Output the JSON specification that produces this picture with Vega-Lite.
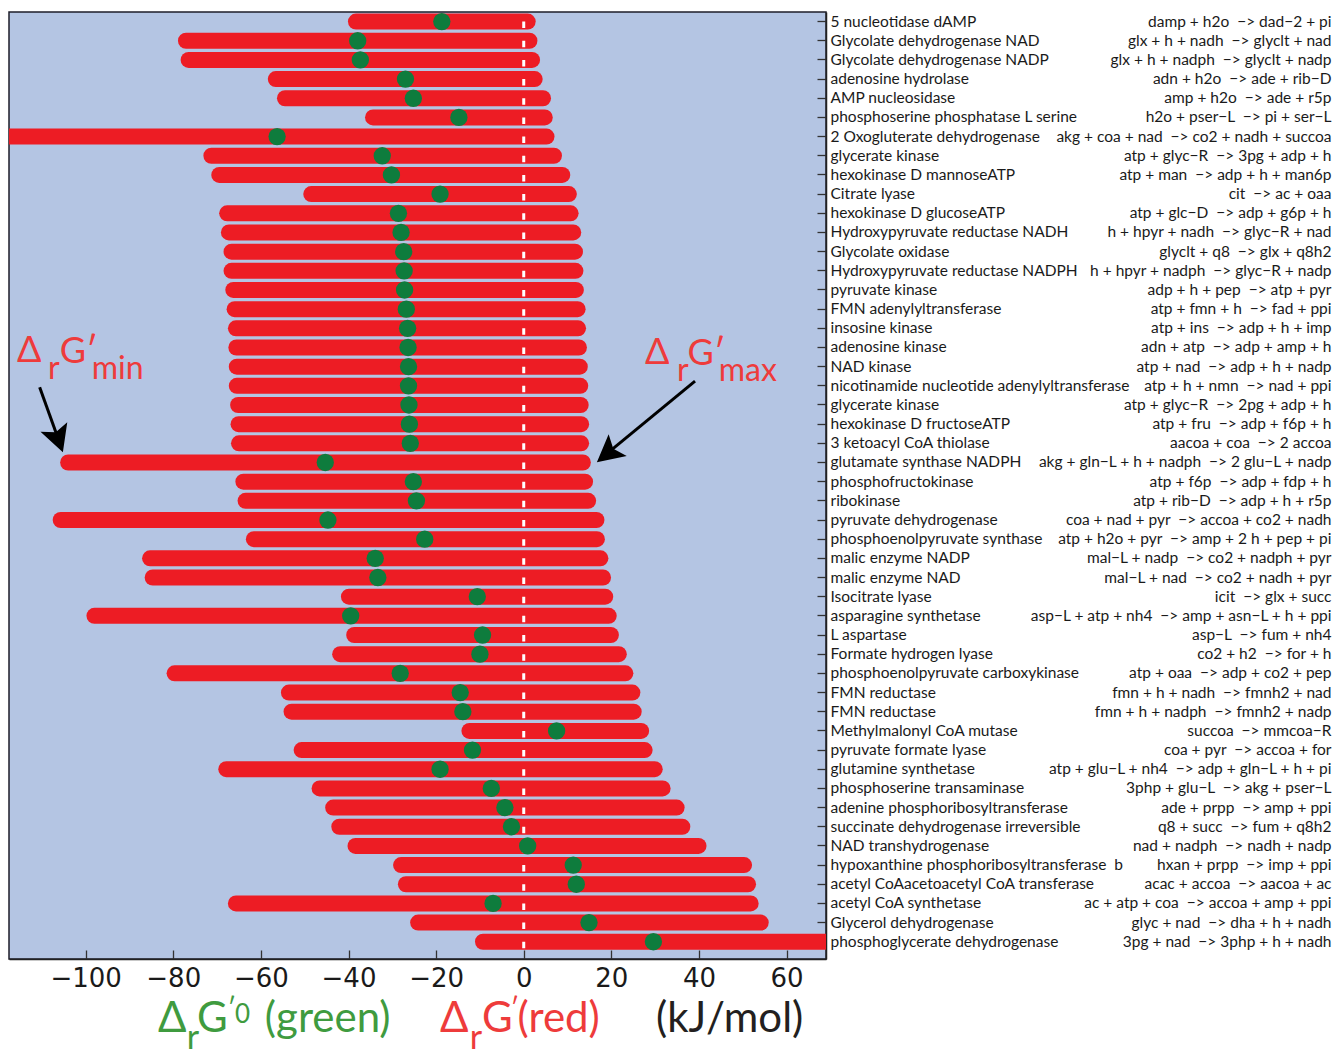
{
  "$schema": "https://vega.github.io/schema/vega-lite/v6.json",
  "width": 817,
  "height": 947,
  "autosize": {"type": "none"},
  "padding": {"left": 9, "top": 12, "right": 512, "bottom": 92},
  "background": "white",
  "config": {
    "view": {"fill": "#B4C5E3", "stroke": "#1E1E2A", "strokeWidth": 1.5},
    "font": "Lato",
    "axis": {"grid": false, "domainColor": "#222222", "tickColor": "#333333", "labelColor": "#1A1A1A"}
  },
  "datasets": {
    "rows": [
      {"key": "00|5 nucleotidase dAMP|damp + h2o\u00a0 −> dad−2 + pi", "dg_min": -38.3, "dg_max": 0.9, "dg0": -18.7},
      {"key": "01|Glycolate dehydrogenase NAD|glx + h + nadh\u00a0 −> glyclt + nad", "dg_min": -77.1, "dg_max": 1.3, "dg0": -37.9},
      {"key": "02|Glycolate dehydrogenase NADP|glx + h + nadph\u00a0 −> glyclt + nadp", "dg_min": -76.5, "dg_max": 1.9, "dg0": -37.3},
      {"key": "03|adenosine hydrolase|adn + h2o\u00a0 −> ade + rib−D", "dg_min": -56.6, "dg_max": 2.5, "dg0": -27.0},
      {"key": "04|AMP nucleosidase|amp + h2o\u00a0 −> ade + r5p", "dg_min": -54.5, "dg_max": 4.4, "dg0": -25.2},
      {"key": "05|phosphoserine phosphatase L serine|h2o + pser−L\u00a0 −> pi + ser−L", "dg_min": -34.4, "dg_max": 4.8, "dg0": -14.8},
      {"key": "06|2 Oxogluterate dehydrogenase|akg + coa + nad\u00a0 −> co2 + nadh + succoa", "dg_min": -135, "dg_max": 5.2, "dg0": -56.3},
      {"key": "07|glycerate kinase|atp + glyc−R\u00a0 −> 3pg + adp + h", "dg_min": -71.3, "dg_max": 6.9, "dg0": -32.3},
      {"key": "08|hexokinase D mannoseATP|atp + man\u00a0 −> adp + h + man6p", "dg_min": -69.5, "dg_max": 8.8, "dg0": -30.2},
      {"key": "09|Citrate lyase|cit\u00a0 −> ac + oaa", "dg_min": -48.5, "dg_max": 10.3, "dg0": -19.1},
      {"key": "10|hexokinase D glucoseATP|atp + glc−D\u00a0 −> adp + g6p + h", "dg_min": -67.7, "dg_max": 10.7, "dg0": -28.6},
      {"key": "11|Hydroxypyruvate reductase NADH|h + hpyr + nadh\u00a0 −> glyc−R + nad", "dg_min": -67.3, "dg_max": 11.3, "dg0": -28.0},
      {"key": "12|Glycolate oxidase|glyclt + q8\u00a0 −> glx + q8h2", "dg_min": -66.7, "dg_max": 11.7, "dg0": -27.4},
      {"key": "13|Hydroxypyruvate reductase NADPH|h + hpyr + nadph\u00a0 −> glyc−R + nadp", "dg_min": -66.7, "dg_max": 11.8, "dg0": -27.3},
      {"key": "14|pyruvate kinase|adp + h + pep\u00a0 −> atp + pyr", "dg_min": -66.3, "dg_max": 11.9, "dg0": -27.2},
      {"key": "15|FMN adenylyltransferase|atp + fmn + h\u00a0 −> fad + ppi", "dg_min": -66.0, "dg_max": 12.3, "dg0": -26.8},
      {"key": "16|insosine kinase|atp + ins\u00a0 −> adp + h + imp", "dg_min": -65.7, "dg_max": 12.4, "dg0": -26.5},
      {"key": "17|adenosine kinase|adn + atp\u00a0 −> adp + amp + h", "dg_min": -65.6, "dg_max": 12.6, "dg0": -26.4},
      {"key": "18|NAD kinase|atp + nad\u00a0 −> adp + h + nadp", "dg_min": -65.5, "dg_max": 12.8, "dg0": -26.3},
      {"key": "19|nicotinamide nucleotide adenylyltransferase|atp + h + nmn\u00a0 −> nad + ppi", "dg_min": -65.5, "dg_max": 12.9, "dg0": -26.3},
      {"key": "20|glycerate kinase|atp + glyc−R\u00a0 −> 2pg + adp + h", "dg_min": -65.2, "dg_max": 13.0, "dg0": -26.2},
      {"key": "21|hexokinase D fructoseATP|atp + fru\u00a0 −> adp + f6p + h", "dg_min": -65.1, "dg_max": 13.1, "dg0": -26.1},
      {"key": "22|3 ketoacyl CoA thiolase|aacoa + coa\u00a0 −> 2 accoa", "dg_min": -65.0, "dg_max": 13.1, "dg0": -25.9},
      {"key": "23|glutamate synthase NADPH|akg + gln−L + h + nadph\u00a0 −> 2 glu−L + nadp", "dg_min": -104.0, "dg_max": 13.5, "dg0": -45.3},
      {"key": "24|phosphofructokinase|atp + f6p\u00a0 −> adp + fdp + h", "dg_min": -64.0, "dg_max": 14.0, "dg0": -25.2},
      {"key": "25|ribokinase|atp + rib−D\u00a0 −> adp + h + r5p", "dg_min": -63.5, "dg_max": 14.7, "dg0": -24.5},
      {"key": "26|pyruvate dehydrogenase|coa + nad + pyr\u00a0 −> accoa + co2 + nadh", "dg_min": -105.7, "dg_max": 16.6, "dg0": -44.7},
      {"key": "27|phosphoenolpyruvate synthase|atp + h2o + pyr\u00a0 −> amp + 2 h + pep + pi", "dg_min": -61.6, "dg_max": 16.7, "dg0": -22.6},
      {"key": "28|malic enzyme NADP|mal−L + nadp\u00a0 −> co2 + nadph + pyr", "dg_min": -85.3, "dg_max": 17.5, "dg0": -33.9},
      {"key": "29|malic enzyme NAD|mal−L + nad\u00a0 −> co2 + nadh + pyr", "dg_min": -84.7, "dg_max": 18.1, "dg0": -33.3},
      {"key": "30|Isocitrate lyase|icit\u00a0 −> glx + succ", "dg_min": -39.9, "dg_max": 18.6, "dg0": -10.6},
      {"key": "31|asparagine synthetase|asp−L + atp + nh4\u00a0 −> amp + asn−L + h + ppi", "dg_min": -98.0, "dg_max": 19.4, "dg0": -39.5},
      {"key": "32|L aspartase|asp−L\u00a0 −> fum + nh4", "dg_min": -38.7, "dg_max": 19.9, "dg0": -9.4},
      {"key": "33|Formate hydrogen lyase|co2 + h2\u00a0 −> for + h", "dg_min": -41.9, "dg_max": 21.7, "dg0": -10.0},
      {"key": "34|phosphoenolpyruvate carboxykinase|atp + oaa\u00a0 −> adp + co2 + pep", "dg_min": -79.7, "dg_max": 23.2, "dg0": -28.2},
      {"key": "35|FMN reductase|fmn + h + nadh\u00a0 −> fmnh2 + nad", "dg_min": -53.6, "dg_max": 24.8, "dg0": -14.5},
      {"key": "36|FMN reductase|fmn + h + nadph\u00a0 −> fmnh2 + nadp", "dg_min": -53.0, "dg_max": 25.1, "dg0": -13.9},
      {"key": "37|Methylmalonyl CoA mutase|succoa\u00a0 −> mmcoa−R", "dg_min": -12.4, "dg_max": 26.8, "dg0": 7.5},
      {"key": "38|pyruvate formate lyase|coa + pyr\u00a0 −> accoa + for", "dg_min": -50.7, "dg_max": 27.6, "dg0": -11.7},
      {"key": "39|glutamine synthetase|atp + glu−L + nh4\u00a0 −> adp + gln−L + h + pi", "dg_min": -67.9, "dg_max": 29.9, "dg0": -19.1},
      {"key": "40|phosphoserine transaminase|3php + glu−L\u00a0 −> akg + pser−L", "dg_min": -46.6, "dg_max": 31.7, "dg0": -7.4},
      {"key": "41|adenine phosphoribosyltransferase|ade + prpp\u00a0 −> amp + ppi", "dg_min": -43.5, "dg_max": 34.9, "dg0": -4.3},
      {"key": "42|succinate dehydrogenase irreversible|q8 + succ\u00a0 −> fum + q8h2", "dg_min": -42.1, "dg_max": 36.2, "dg0": -2.8},
      {"key": "43|NAD transhydrogenase|nad + nadph\u00a0 −> nadh + nadp", "dg_min": -38.4, "dg_max": 39.9, "dg0": 0.9},
      {"key": "44|hypoxanthine phosphoribosyltransferase\u00a0 b|hxan + prpp\u00a0 −> imp + ppi", "dg_min": -28.0, "dg_max": 50.3, "dg0": 11.3},
      {"key": "45|acetyl CoAacetoacetyl CoA transferase|acac + accoa\u00a0 −> aacoa + ac", "dg_min": -26.9, "dg_max": 51.2, "dg0": 12.0},
      {"key": "46|acetyl CoA synthetase|ac + atp + coa\u00a0 −> accoa + amp + ppi", "dg_min": -65.7, "dg_max": 51.8, "dg0": -7.0},
      {"key": "47|Glycerol dehydrogenase|glyc + nad\u00a0 −> dha + h + nadh", "dg_min": -24.1, "dg_max": 54.1, "dg0": 14.9},
      {"key": "48|phosphoglycerate dehydrogenase|3pg + nad\u00a0 −> 3php + h + nadh", "dg_min": -9.3, "dg_max": 85, "dg0": 29.6}
    ],
    "zero": [{"x": 0, "r": 0, "r2": 48.5}],
    "arrows": [
      {"x": -110.5, "r": 19.08, "x2": -105.9, "r2": 22.0},
      {"x": 39.1, "r": 18.76, "x2": 18.3, "r2": 22.67}
    ],
    "heads": [
      {"x": -105.2, "r": 22.47, "angle": 160.5},
      {"x": 16.7, "r": 22.99, "angle": 230.4}
    ],
    "ann": [
      {"x": -115.7, "r": 17.77, "text": "Δ", "tone": "red", "role": "main"},
      {"x": -108.6, "r": 18.66, "text": "r", "tone": "red", "role": "sub"},
      {"x": -105.9, "r": 17.83, "text": "G′", "tone": "red", "role": "main"},
      {"x": -98.6, "r": 18.66, "text": "min", "tone": "red", "role": "sub"},
      {"x": 27.7, "r": 17.87, "text": "Δ", "tone": "red", "role": "main"},
      {"x": 35.0, "r": 18.75, "text": "r", "tone": "red", "role": "sub"},
      {"x": 37.4, "r": 17.92, "text": "G′", "tone": "red", "role": "main"},
      {"x": 44.5, "r": 18.75, "text": "max", "tone": "red", "role": "sub"},
      {"x": -83.5, "r": 52.7, "text": "Δ", "tone": "green", "role": "legend"},
      {"x": -76.9, "r": 53.6, "text": "r", "tone": "green", "role": "legendsub"},
      {"x": -74.6, "r": 52.7, "text": "G", "tone": "green", "role": "legend"},
      {"x": -67.6, "r": 51.95, "text": "′", "tone": "green", "role": "sup"},
      {"x": -65.9, "r": 52.25, "text": "0", "tone": "green", "role": "sup"},
      {"x": -59.1, "r": 52.7, "text": "(green)", "tone": "green", "role": "legend"},
      {"x": -19.1, "r": 52.7, "text": "Δ", "tone": "red", "role": "legend"},
      {"x": -12.3, "r": 53.6, "text": "r", "tone": "red", "role": "legendsub"},
      {"x": -9.5, "r": 52.7, "text": "G", "tone": "red", "role": "legend"},
      {"x": -3.0, "r": 51.95, "text": "′", "tone": "red", "role": "sup"},
      {"x": -1.4, "r": 52.7, "text": "(red)", "tone": "red", "role": "legend"},
      {"x": 30.2, "r": 52.7, "text": "(kJ/mol)", "tone": "black", "role": "legend"}
    ]
  },
  "layer": [
    {
      "data": {"name": "rows"},
      "mark": {"type": "rule", "strokeCap": "round", "strokeWidth": 16, "color": "#ED1C24", "clip": true},
      "encoding": {
        "y": {
          "field": "key", "type": "nominal",
          "scale": {"type": "band", "paddingInner": 0, "paddingOuter": 0.2, "align": 0},
          "axis": {
            "orient": "right", "title": null,
            "labelExpr": "split(datum.value, '|')[1]",
            "tickSize": -9, "tickWidth": 1.3, "labelPadding": 13,
            "labelFont": "Lato", "labelFontSize": 15.5, "labelLimit": 0,
            "domain": true, "domainWidth": 1.5
          }
        },
        "x": {
          "field": "dg_min", "type": "quantitative",
          "scale": {"domain": [-117.5, 69], "nice": false, "zero": false},
          "axis": {
            "title": null, "values": [-100, -80, -60, -40, -20, 0, 20, 40, 60],
            "tickSize": -9, "tickWidth": 1.3, "labelPadding": 15,
            "labelFont": "DejaVu Sans", "labelFontSize": 26, "labelFlush": false,
            "domain": true, "domainWidth": 1.5
          }
        },
        "x2": {"field": "dg_max"}
      }
    },
    {
      "data": {"name": "zero"},
      "mark": {"type": "rule", "color": "white", "strokeWidth": 3, "strokeDash": [6.5, 12.67]},
      "encoding": {
        "x": {"field": "x", "type": "quantitative"},
        "y": {"field": "r", "type": "quantitative", "scale": {"domain": [-0.5, 48.9], "reverse": true, "nice": false, "zero": false}, "axis": null},
        "y2": {"field": "r2"}
      }
    },
    {
      "data": {"name": "rows"},
      "mark": {"type": "point", "filled": true, "size": 300, "color": "#0E7C3D", "opacity": 1, "strokeWidth": 0},
      "encoding": {
        "y": {
          "field": "key", "type": "nominal",
          "scale": {"type": "band", "paddingInner": 0, "paddingOuter": 0.2, "align": 0},
          "axis": {
            "orient": "right", "title": null,
            "labelExpr": "split(datum.value, '|')[2]",
            "ticks": false, "domain": false, "labelAlign": "right", "labelPadding": 505,
            "labelFont": "Lato", "labelFontSize": 15.5, "labelLimit": 0
          }
        },
        "x": {"field": "dg0", "type": "quantitative"}
      }
    },
    {
      "data": {"name": "arrows"},
      "mark": {"type": "rule", "color": "black", "strokeWidth": 3},
      "encoding": {
        "x": {"field": "x", "type": "quantitative"},
        "x2": {"field": "x2"},
        "y": {"field": "r", "type": "quantitative", "scale": {"domain": [-0.5, 48.9], "reverse": true, "nice": false, "zero": false}, "axis": null},
        "y2": {"field": "r2"}
      }
    },
    {
      "data": {"name": "heads"},
      "mark": {"type": "point", "filled": true, "shape": "M0,0L1,1.9L0,1.5L-1,1.9Z", "size": 807, "color": "black", "opacity": 1, "strokeWidth": 0},
      "encoding": {
        "x": {"field": "x", "type": "quantitative"},
        "y": {"field": "r", "type": "quantitative", "scale": {"domain": [-0.5, 48.9], "reverse": true, "nice": false, "zero": false}, "axis": null},
        "angle": {"field": "angle", "type": "quantitative", "scale": null}
      }
    },
    {
      "data": {"name": "ann"},
      "mark": {"type": "text", "align": "left", "baseline": "alphabetic", "font": "Lato"},
      "encoding": {
        "x": {"field": "x", "type": "quantitative"},
        "y": {"field": "r", "type": "quantitative", "scale": {"domain": [-0.5, 48.9], "reverse": true, "nice": false, "zero": false}, "axis": null},
        "text": {"field": "text"},
        "color": {"field": "tone", "type": "nominal", "scale": {"domain": ["red", "green", "black"], "range": ["#EE3B3B", "#3F9B3F", "#231F20"]}, "legend": null},
        "size": {"field": "role", "type": "nominal", "scale": {"type": "ordinal", "domain": ["main", "sub", "sup", "legend", "legendsub"], "range": [36, 32, 26, 42, 34]}, "legend": null}
      }
    }
  ],
  "resolve": {"scale": {"y": "independent"}, "axis": {"y": "independent"}}
}
